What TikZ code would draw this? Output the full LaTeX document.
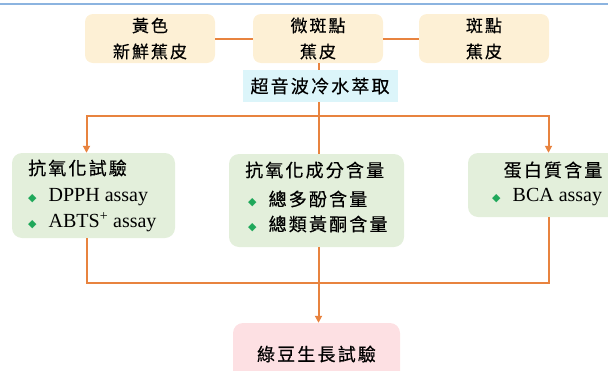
\documentclass[tikz,border=0pt]{standalone}
\usepackage{fontspec}
\setmainfont{Liberation Serif}
\newfontfamily\cjk[LetterSpace=12,FakeBold=0.4]{Noto Sans CJK TC}
\newfontfamily\dejavu{DejaVu Sans}
\usetikzlibrary{arrows.meta}
\definecolor{peach}{HTML}{FDF0D5}
\definecolor{cyanbox}{HTML}{DCF5FA}
\definecolor{greenbox}{HTML}{E3EFDB}
\definecolor{pinkbox}{HTML}{FDE0E3}
\definecolor{lineor}{HTML}{E8833F}
\definecolor{topblue}{HTML}{8CB4E0}
\definecolor{bgreen}{HTML}{1FA85A}
\newcommand{\bul}{{\dejavu\fontsize{11}{11}\selectfont\color{bgreen}◆}\hspace{12pt}}
\begin{document}
\begin{tikzpicture}[x=1pt,y=-1pt,
  conn/.style={draw=lineor, line width=2pt},
  tip/.style={-{Triangle[length=7pt,width=7pt]}},
  topbox/.style={fill=peach, rounded corners=8pt, inner sep=0pt, minimum width=130pt, minimum height=49pt, align=center, font=\cjk\fontsize{17}{26}\selectfont},
  extbox/.style={fill=cyanbox, inner sep=0pt, minimum width=155pt, minimum height=32pt, font=\cjk\fontsize{18}{20}\selectfont},
  grbox/.style={fill=greenbox, rounded corners=10pt, inner sep=0pt},
  pkbox/.style={fill=pinkbox, rounded corners=10pt, inner sep=0pt, minimum width=167pt, minimum height=62pt, font=\cjk\fontsize{18}{20}\selectfont},
  cjkt/.style={inner sep=0pt, anchor=west, font=\cjk\fontsize{18}{20}\selectfont},
  latt/.style={inner sep=0pt, anchor=west, font=\fontsize{20}{22}\selectfont},
  cjkb/.style={inner sep=0pt, anchor=west, font=\fontsize{18}{20}\selectfont}
]
\clip (0,0) rectangle (608,370);
\draw[topblue, line width=1.4pt] (0,4) -- (608,4);

% top boxes
\node[topbox] (b1) at (150,38.5) {黃色\\新鮮蕉皮};
\node[topbox] (b2) at (318,38.5) {微斑點\\蕉皮};
\node[topbox] (b3) at (484,38.5) {斑點\\蕉皮};
\node[extbox] (ext) at (320,86) {超音波冷水萃取};

% green boxes
\node[grbox, minimum width=163pt, minimum height=85pt] (bA) at (93.5,195.5) {};
\node[grbox, minimum width=175pt, minimum height=93pt] (bB) at (316.5,200.5) {};
\node[grbox, minimum width=172pt, minimum height=64pt] (bC) at (554,185) {};

\node[cjkt] (tA) at (28,168) {抗氧化試驗};
\node[latt] (tA1) at (28,197) {\bul DPPH assay};
\node[latt] (tA2) at (28,222) {\bul ABTS\textsuperscript{+} assay};

\node[cjkt] (tB) at (245,170) {抗氧化成分含量};
\node[cjkb] (tB1) at (248,199) {\bul{\cjk 總多酚含量}};
\node[cjkb] (tB2) at (248,224) {\bul{\cjk 總類黃酮含量}};

\node[cjkt, anchor=center] (tC) at (553,170) {蛋白質含量};
\node[latt] (tC1) at (492,197) {\bul BCA assay};

% pink box
\node[pkbox] (pk) at (316.5,354) {綠豆生長試驗};

% connectors
\coordinate (mx) at (318.5,0);
\coordinate (jL) at (86.5,116);
\coordinate (jR) at (548.5,116);
\coordinate (kL) at (86.5,283);
\coordinate (kR) at (548.5,283);

\draw[conn] (b1.east) -- (b2.west);
\draw[conn] (b2.east) -- (b3.west);
\draw[conn] (b2.south -| mx) -- (ext.north -| mx);
\draw[conn] (ext.south -| mx) -- (bB.north -| mx);
\draw[conn, {Triangle[length=7pt,width=7pt]}-{Triangle[length=7pt,width=7pt]}]
  (bA.north -| jL) -- (jL) -- (jR) -- (bC.north -| jR);
\draw[conn] (bA.south -| kL) -- (kL) -- (kR) -- (bC.south -| kR);
\draw[conn, tip] (bB.south -| mx) -- (pk.north -| mx);
\end{tikzpicture}
\end{document}
